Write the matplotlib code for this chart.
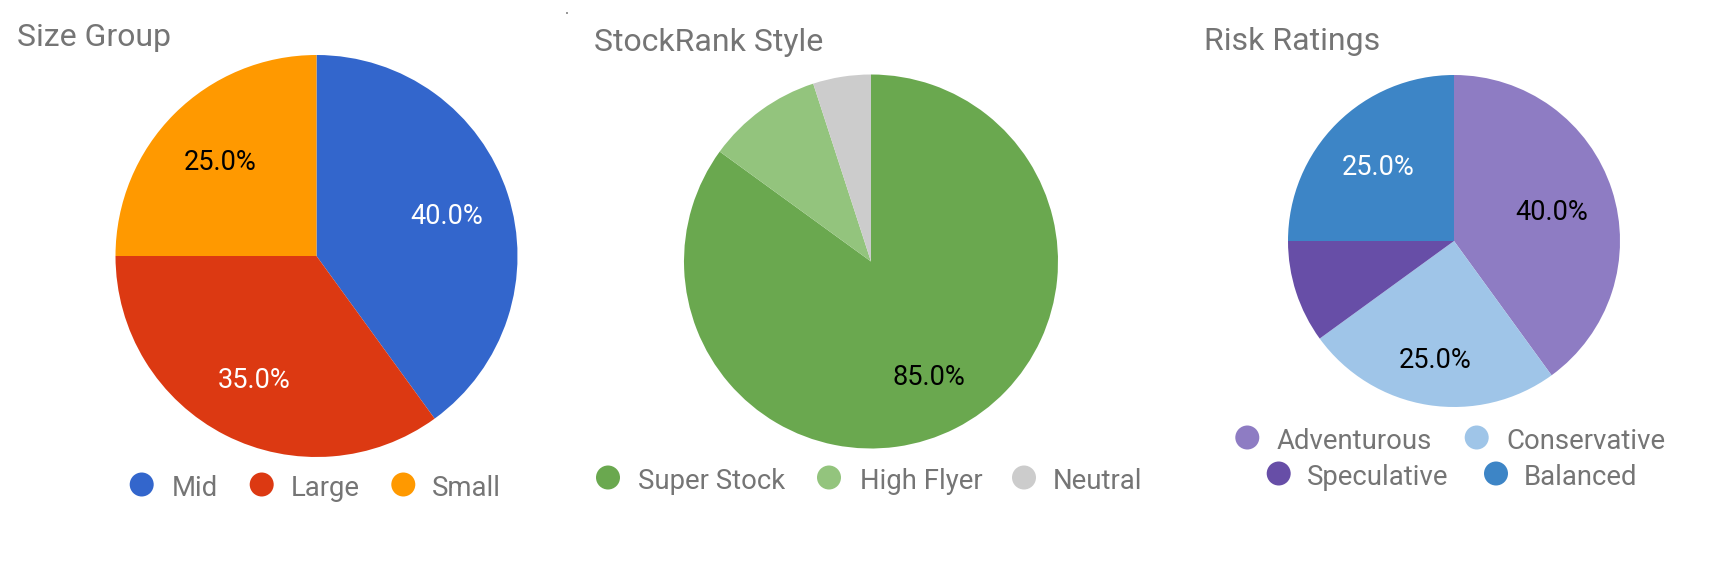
import matplotlib
matplotlib.use("Agg")
import numpy as np
import matplotlib.pyplot as plt
from matplotlib.patches import Ellipse, Rectangle

W, H = 1712, 566
DPI = 100

# ---- data ----
size_labels = ["Mid", "Large", "Small"]
size_values = [40, 35, 25]
size_colors = ["#3366cc", "#dc3912", "#ff9900"]
size_pct_colors = ["white", "white", "black"]

style_labels = ["Super Stock", "High Flyer", "Neutral"]
style_values = [85, 10, 5]
style_colors = ["#6aa84f", "#93c47d", "#cccccc"]
style_pct_colors = ["black", "black", "black"]

risk_labels = ["Adventurous", "Conservative", "Speculative", "Balanced"]
risk_values = [40, 25, 10, 25]
risk_colors = ["#8e7cc3", "#9fc5e8", "#674ea7", "#3d85c6"]
risk_pct_colors = ["black", "black", "white", "white"]

FONT = ["Roboto", "DejaVu Sans"]
GRAY = "#757575"

fig = plt.figure(figsize=(W / DPI, H / DPI), dpi=DPI)


def fx(x):
    return x / W


def fy(y):
    return 1 - y / H


def pie_at(cx, cy, r, values, colors, pct_colors, pctdists):
    ax = fig.add_axes([fx(cx - r), fy(cy + r), 2 * r / W, 2 * r / H])
    wedges, texts, autotexts = ax.pie(
        values, colors=colors, startangle=90, counterclock=False,
        radius=1.0,
        autopct=lambda p: f"{p:.1f}%" if p >= 15 else "",
        wedgeprops=dict(linewidth=0),
        textprops=dict(fontsize=19.5, family=FONT))
    for w, t, c, d in zip(wedges, autotexts, pct_colors, pctdists):
        ang = np.deg2rad((w.theta1 + w.theta2) / 2)
        t.set_position((d * np.cos(ang), d * np.sin(ang)))
        t.set_color(c)
        t.set_verticalalignment("center_baseline")
    ax.set_xlim(-1, 1)
    ax.set_ylim(-1, 1)
    ax.set_aspect("equal")
    ax.axis("off")
    return ax


def legend_item(mx, tx, y, color, label):
    d = 24
    fig.add_artist(Ellipse((fx(mx), fy(y)), d / W, d / H,
                           transform=fig.transFigure, facecolor=color,
                           edgecolor="none"))
    fig.text(fx(tx), fy(y + 1), label, fontsize=19.8, family=FONT, color=GRAY,
             ha="left", va="center_baseline")


# ---- chart 1: Size Group ----
pie_at(316.5, 256, 201, size_values, size_colors, size_pct_colors,
       [0.68, 0.68, 0.68])
fig.text(fx(17), fy(46), "Size Group", fontsize=23, family=FONT, color=GRAY,
         ha="left", va="baseline")
for mx, tx, lab, col in zip([141.7, 261.7, 403.3], [171.7, 290.7, 431.7],
                            size_labels, size_colors):
    legend_item(mx, tx, 484.5, col, lab)

# ---- chart 2: StockRank Style ----
pie_at(871, 261.5, 187, style_values, style_colors, style_pct_colors,
       [0.68, 0.68, 0.68])
fig.text(fx(594), fy(51), "StockRank Style", fontsize=23, family=FONT,
         color=GRAY, ha="left", va="baseline")
for mx, tx, lab, col in zip([608, 829, 1024], [637.5, 859.6, 1052.5],
                            style_labels, style_colors):
    legend_item(mx, tx, 477.5, col, lab)

# ---- chart 3: Risk Ratings ----
pie_at(1454, 241, 166, risk_values, risk_colors, risk_pct_colors,
       [0.62, 0.71, 0.66, 0.65])
fig.text(fx(1204), fy(50), "Risk Ratings", fontsize=23, family=FONT,
         color=GRAY, ha="left", va="baseline")
legend_pos = [(1247.3, 1276.7, 437.5), (1476.7, 1506, 437.5),
              (1278.7, 1306.5, 473.5), (1496, 1524, 473.5)]
for (mx, tx, y), lab, col in zip(legend_pos, risk_labels, risk_colors):
    legend_item(mx, tx, y, col, lab)

# small stray dot in the original image
fig.add_artist(Rectangle((fx(566), fy(14)), 2 / W, 2 / H,
                         transform=fig.transFigure, facecolor="#999999",
                         edgecolor="none"))

fig.savefig("out.png", dpi=DPI)
